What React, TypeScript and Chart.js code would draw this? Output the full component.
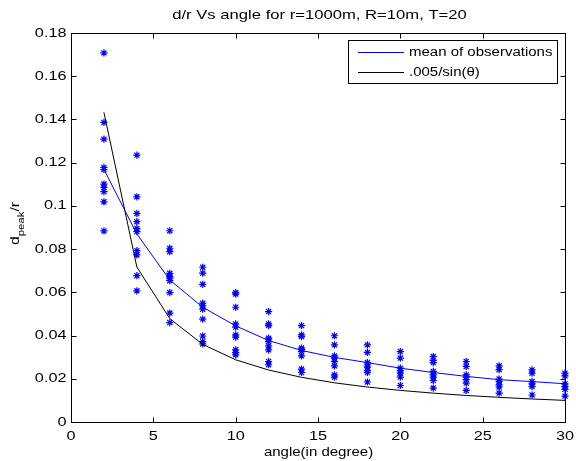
import React, { useEffect, useRef } from "react";
import { Chart, registerables } from "chart.js";

Chart.register(...registerables);

const chartTitle = "d/r Vs angle for r=1000m, R=10m, T=20";
const xAxisTitle = "angle(in degree)";
const legendLabels = ["mean of observations", ".005/sin(\u03B8)"];

const angles = [2, 4, 6, 8, 10, 12, 14, 16, 18, 20, 22, 24, 26, 28, 30];

const observations: number[][] = [
  [0.1708, 0.1386, 0.1309, 0.1178, 0.1168, 0.1101, 0.1086, 0.1066, 0.1019, 0.0884],
  [0.1235, 0.1042, 0.0965, 0.0927, 0.0896, 0.0881, 0.0793, 0.0773, 0.0677, 0.0607],
  [0.0885, 0.0804, 0.0788, 0.0688, 0.0673, 0.0666, 0.0654, 0.0599, 0.0504, 0.046],
  [0.0716, 0.0689, 0.0637, 0.055, 0.0537, 0.0522, 0.0476, 0.0398, 0.0372, 0.0361],
  [0.0599, 0.0592, 0.0531, 0.0454, 0.0439, 0.0403, 0.0393, 0.0334, 0.0321, 0.0311],
  [0.0511, 0.0454, 0.0446, 0.0388, 0.0383, 0.0372, 0.0352, 0.0334, 0.028, 0.0265],
  [0.0446, 0.0403, 0.0395, 0.0342, 0.0335, 0.0326, 0.0306, 0.0245, 0.0229],
  [0.0399, 0.0357, 0.0306, 0.0296, 0.028, 0.026, 0.0218, 0.0208],
  [0.0357, 0.0322, 0.0275, 0.0265, 0.0254, 0.0238, 0.0229, 0.0185],
  [0.0326, 0.0296, 0.0249, 0.0238, 0.0226, 0.0208, 0.0169],
  [0.0303, 0.0285, 0.0275, 0.0234, 0.0218, 0.0208, 0.0192, 0.0157],
  [0.028, 0.0257, 0.0218, 0.0208, 0.0196, 0.018, 0.0146],
  [0.026, 0.0242, 0.0199, 0.0188, 0.0172, 0.0162, 0.0134],
  [0.0241, 0.0226, 0.0187, 0.0176, 0.0164, 0.0125],
  [0.0226, 0.0213, 0.0176, 0.0164, 0.0151, 0.012],
];

const meanValues = [
  0.1169, 0.087, 0.0657, 0.0531, 0.0445, 0.0377, 0.0331, 0.0299, 0.0275, 0.0249,
  0.0229, 0.0211, 0.0196, 0.0187, 0.0177,
];

const formulaValues = [
  0.14327, 0.07168, 0.04783, 0.03593, 0.02879, 0.02405, 0.02067, 0.01814, 0.01618,
  0.01462, 0.01335, 0.01229, 0.01141, 0.01065, 0.01,
];

const xTicks = [0, 5, 10, 15, 20, 25, 30];
const yTicks = [0, 0.02, 0.04, 0.06, 0.08, 0.1, 0.12, 0.14, 0.16, 0.18];
const yTickLabels = ["0", "0.02", "0.04", "0.06", "0.08", "0.1", "0.12", "0.14", "0.16", "0.18"];

const FONT = '"Liberation Sans", Arial, sans-serif';

function drawText(
  ctx: CanvasRenderingContext2D,
  text: string,
  x: number,
  y: number,
  align: CanvasTextAlign,
  size: number,
  stretch: number
) {
  ctx.save();
  ctx.translate(x, y);
  ctx.scale(stretch, 1);
  ctx.font = `${size}px ${FONT}`;
  ctx.textAlign = align;
  ctx.textBaseline = "middle";
  ctx.fillStyle = "#000";
  ctx.fillText(text, 0, 0);
  ctx.restore();
}

const decorPlugin = {
  id: "decor",
  afterDraw(chart: any) {
    const ctx: CanvasRenderingContext2D = chart.ctx;
    const a = chart.chartArea;
    const xs = chart.scales.x;
    const ys = chart.scales.y;
    ctx.save();
    ctx.strokeStyle = "#000";
    ctx.lineWidth = 1;
    const L = Math.round(a.left) + 0.5;
    const R = Math.round(a.right) + 0.5;
    const T = Math.round(a.top) + 0.5;
    const B = Math.round(a.bottom) + 0.5;
    ctx.strokeRect(L, T, R - L, B - T);
    const tl = 5;
    ctx.beginPath();
    xTicks.forEach((v) => {
      const px = Math.round(xs.getPixelForValue(v)) + 0.5;
      ctx.moveTo(px, B);
      ctx.lineTo(px, B - tl);
      ctx.moveTo(px, T);
      ctx.lineTo(px, T + tl);
    });
    yTicks.forEach((v) => {
      const py = Math.round(ys.getPixelForValue(v)) + 0.5;
      ctx.moveTo(L, py);
      ctx.lineTo(L + tl, py);
      ctx.moveTo(R, py);
      ctx.lineTo(R - tl, py);
    });
    ctx.stroke();

    // tick labels
    xTicks.forEach((v) => {
      drawText(ctx, String(v), xs.getPixelForValue(v), B + 14, "center", 13, 1.25);
    });
    yTicks.forEach((v, i) => {
      drawText(ctx, yTickLabels[i], L - 5, ys.getPixelForValue(v), "right", 13, 1.25);
    });

    // titles
    const cx = (L + R) / 2;
    drawText(ctx, chartTitle, cx + 1, 15.5, "center", 13, 1.28);
    drawText(ctx, xAxisTitle, cx, 453, "center", 12.5, 1.2);

    // y axis label with subscript
    ctx.save();
    ctx.translate(19, 245);
    ctx.rotate(-Math.PI / 2);
    ctx.scale(1.2, 1);
    ctx.fillStyle = "#000";
    ctx.textBaseline = "alphabetic";
    ctx.textAlign = "left";
    ctx.font = `13px ${FONT}`;
    ctx.fillText("d", 0, 0);
    let w = ctx.measureText("d").width;
    ctx.font = `9.5px ${FONT}`;
    ctx.fillText("peak", w, 5);
    w += ctx.measureText("peak").width;
    ctx.font = `13px ${FONT}`;
    ctx.fillText("/r", w, 0);
    ctx.restore();

    // legend
    const lx = 348.5, ly = 40.5, lw = 209, lh = 43;
    ctx.fillStyle = "#fff";
    ctx.fillRect(lx, ly, lw, lh);
    ctx.strokeStyle = "#000";
    ctx.strokeRect(lx, ly, lw, lh);
    const rows = [
      { color: "#0000ff", y: 52.5 },
      { color: "#000000", y: 72.5 },
    ];
    rows.forEach((r, i) => {
      ctx.strokeStyle = r.color;
      ctx.beginPath();
      ctx.moveTo(358, r.y);
      ctx.lineTo(404, r.y);
      ctx.stroke();
      drawText(ctx, legendLabels[i], 409, r.y, "left", 12.5, 1.2);
    });
    ctx.restore();
  },
};

export default function App() {
  const ref = useRef<HTMLCanvasElement>(null);
  useEffect(() => {
    document.body.style.margin = "0";
    const canvas = ref.current!;
    const scatterData: { x: number; y: number }[] = [];
    angles.forEach((ang, i) => {
      observations[i].forEach((v) => scatterData.push({ x: ang, y: v }));
    });
    const chart = new Chart(canvas, {
      type: "scatter",
      data: {
        datasets: [
          {
            label: legendLabels[0],
            data: angles.map((ang, i) => ({ x: ang, y: meanValues[i] })),
            showLine: true,
            borderColor: "#0000ff",
            borderWidth: 1,
            pointRadius: 0,
            order: 0,
            clip: false as any,
          },
          {
            label: legendLabels[1],
            data: angles.map((ang, i) => ({ x: ang, y: formulaValues[i] })),
            showLine: true,
            borderColor: "#000000",
            borderWidth: 1,
            pointRadius: 0,
            order: 0,
            clip: false as any,
          },
          {
            label: "observations",
            data: scatterData,
            pointStyle: "star",
            pointRadius: 3.6,
            borderColor: "#0000ff",
            backgroundColor: "#0000ff",
            borderWidth: 1.2,
            order: 1,
            clip: false as any,
          },
        ],
      },
      options: {
        animation: false,
        responsive: false,
        devicePixelRatio: 1,
        layout: { padding: { left: 71, right: 11, top: 33, bottom: 39 } },
        plugins: { legend: { display: false }, tooltip: { enabled: false }, title: { display: false } },
        events: [],
        scales: {
          x: { type: "linear", min: 0, max: 30, display: false },
          y: { type: "linear", min: 0, max: 0.18, display: false },
        },
      },
      plugins: [decorPlugin],
    });
    return () => chart.destroy();
  }, []);
  return (
    <div style={{ width: 576, height: 461, background: "#fff" }}>
      <canvas ref={ref} width={576} height={461} style={{ display: "block" }} />
    </div>
  );
}
